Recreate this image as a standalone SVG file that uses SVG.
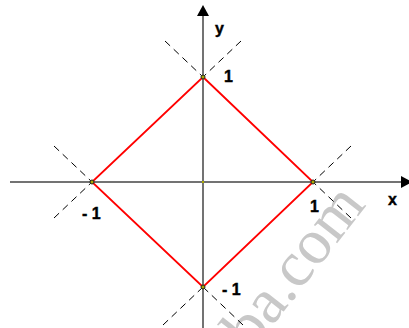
<svg xmlns="http://www.w3.org/2000/svg" width="409" height="328" viewBox="0 0 409 328">
<defs>
<style>
.axis{stroke:#444;stroke-width:1.5;fill:none}
.ah{fill:#000}
.dash{stroke:#000;stroke-width:1;stroke-dasharray:7 5;fill:none}
.edge{stroke:#f00;stroke-width:1.8;fill:none}
.pt{fill:#aa0;stroke:#222;stroke-width:1}
.lbl{font-family:"Liberation Sans",Arial,sans-serif;font-weight:bold;font-size:16px;fill:#000;stroke:#000;stroke-width:0.4}
.wm{font-family:"Liberation Serif","Times New Roman",serif;font-size:64px;fill:#c8c8c8}
</style>
</defs>
<rect width="409" height="328" fill="#fff"/>
<g id="watermark" transform="translate(252,352) rotate(-52)"><text class="wm" x="0" y="0">ba.com</text></g>
<g id="connectors">
<line class="axis" x1="10" y1="182" x2="404" y2="182"/>
<polygon class="ah" points="412,182 401,176 401,188"/>
<line class="axis" x1="203" y1="14" x2="203" y2="328"/>
<polygon class="ah" points="203,5 197,16 209,16"/>
<line class="dash" x1="165" y1="41" x2="203" y2="77"/>
<line class="dash" x1="241" y1="41" x2="203" y2="77"/>
<line class="dash" x1="54" y1="146" x2="92" y2="182"/>
<line class="dash" x1="54" y1="218" x2="92" y2="182"/>
<line class="dash" x1="351" y1="146" x2="313" y2="182"/>
<line class="dash" x1="351" y1="218" x2="313" y2="182"/>
<line class="dash" x1="163" y1="325" x2="203" y2="287"/>
<line class="dash" x1="243" y1="325" x2="203" y2="287"/>
<polygon class="edge" points="203,77 313,182 203,287 92,182"/>
</g>
<g id="node-top"><circle class="pt" cx="203" cy="77" r="2"/><text class="lbl" x="224" y="82">1</text></g>
<g id="node-right"><circle class="pt" cx="313" cy="182" r="2"/><text class="lbl" x="310" y="212">1</text></g>
<g id="node-bottom"><circle class="pt" cx="203" cy="287" r="2"/><text class="lbl" x="222" y="295">- 1</text></g>
<g id="node-left"><circle class="pt" cx="92" cy="182" r="2"/><text class="lbl" x="82" y="219">- 1</text></g>
<g id="node-origin"><rect x="202" y="181" width="2" height="2" fill="#aa0"/></g>
<g id="label-x"><text class="lbl" x="388" y="205">x</text></g>
<g id="label-y"><text class="lbl" x="215" y="34">y</text></g>
</svg>
